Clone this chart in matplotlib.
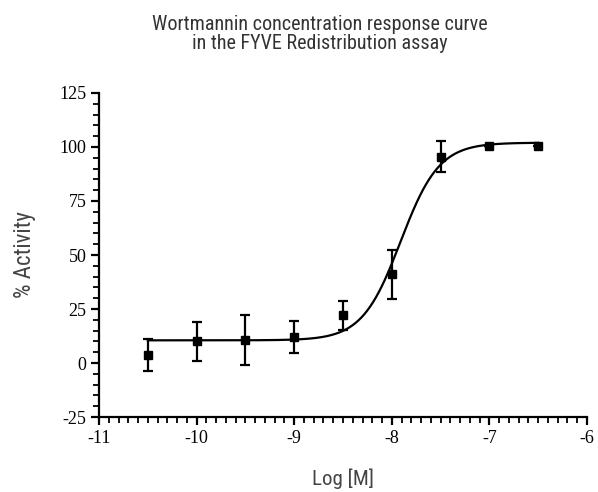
import matplotlib
matplotlib.use("Agg")
import matplotlib.pyplot as plt
from matplotlib.ticker import MultipleLocator
import numpy as np

# measured points (log molar concentration, % activity, error)
log_conc = [-10.5, -10.0, -9.5, -9.0, -8.5, -8.0, -7.5, -7.0, -6.5]
activity = [3.8, 10.0, 10.5, 12.0, 22.0, 41.0, 95.5, 100.5, 100.5]
act_err = [7.5, 9.0, 11.5, 7.5, 6.7, 11.5, 7.2, 0.0, 0.0]

# four parameter logistic fit as drawn on the chart
fit_bottom = 10.5
fit_top = 102.0
fit_logec50 = -7.91
fit_hill = 2.2

plt.rcParams["axes.unicode_minus"] = False
sans = ["Roboto Condensed", "DejaVu Sans"]
serif = ["Liberation Serif", "DejaVu Serif"]

fig = plt.figure(figsize=(5.98, 4.92), dpi=100)
ax = fig.add_axes([0.1656, 0.1524, 0.816, 0.6586])

xs = np.linspace(log_conc[0], log_conc[-1], 400)
ys = fit_bottom + (fit_top - fit_bottom) / (1 + 10 ** ((fit_logec50 - xs) * fit_hill))
ax.plot(xs, ys, color="black", lw=1.6, zorder=2)

ax.errorbar(log_conc, activity, yerr=act_err, fmt="s", color="black",
            ms=6, elinewidth=1.6, capsize=3.3, capthick=1.6, zorder=3)

ax.set_xlim(-11, -6)
ax.set_ylim(-25, 125)
ax.xaxis.set_major_locator(MultipleLocator(1))
ax.xaxis.set_minor_locator(MultipleLocator(0.1))
ax.yaxis.set_major_locator(MultipleLocator(25))
ax.yaxis.set_minor_locator(MultipleLocator(5))

for s in ["top", "right"]:
    ax.spines[s].set_visible(False)
for s in ["left", "bottom"]:
    ax.spines[s].set_linewidth(1.6)

ax.tick_params(which="major", direction="out", length=6, width=1.6, pad=3)
ax.tick_params(which="minor", direction="out", length=4, width=1.3)
for lab in ax.get_xticklabels() + ax.get_yticklabels():
    lab.set_family(serif)
    lab.set_fontsize(13)

ax.set_xlabel("Log [M]", family=sans, fontsize=15, color="#444444", labelpad=16)
ax.set_ylabel("% Activity", family=sans, fontsize=16.5, color="#444444", labelpad=17)

fig.text(0.535, 0.97, "Wortmannin concentration response curve\nin the FYVE Redistribution assay",
         ha="center", va="top", family=sans, fontsize=14.5, color="#333333", linespacing=1.0)

fig.savefig("out.png", dpi=100)
